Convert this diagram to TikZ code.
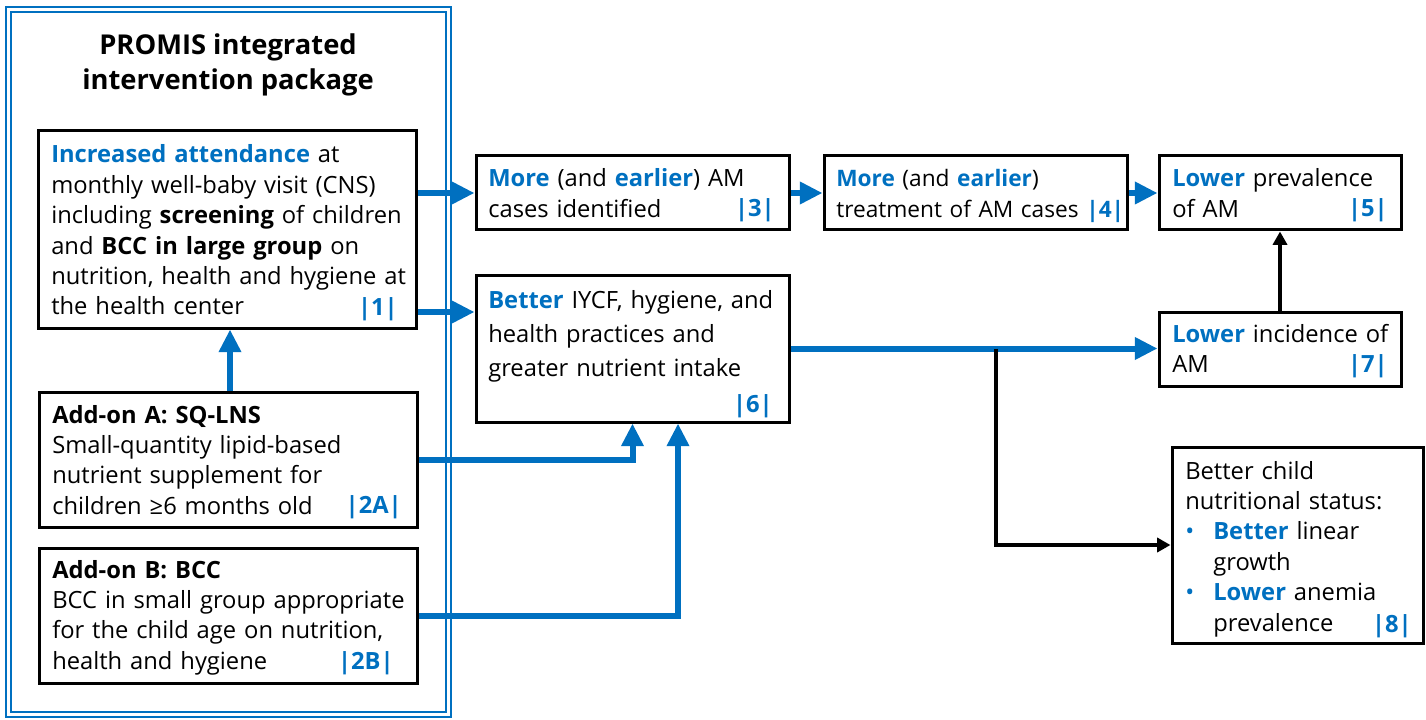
\documentclass[tikz,border=0pt]{standalone}
\usepackage{fontspec}
\setmainfont{Open Sans}
\usetikzlibrary{arrows.meta,calc}
\definecolor{cb}{HTML}{0070C0}
\newcommand{\hb}[1]{\textcolor{cb}{\textbf{#1}}}
\newcommand{\bodyfont}{\fontsize{17.8}{22.8}\selectfont}
\newcommand{\bul}{\makebox[21pt][l]{\textcolor{cb}{•}}}
\newcommand{\ind}{\hspace*{21pt}}
\tikzset{
  box/.style={draw=black, line width=2.25pt, inner sep=0pt, rectangle},
  txt/.style={inner sep=0pt, anchor=base west, align=left, text width=300pt, font=\bodyfont},
  lbl/.style={inner sep=0pt, anchor=base east, font=\bodyfont\bfseries, text=cb},
  barrow/.style={draw=cb, line width=4.5pt, -{Triangle[length=17pt,width=16pt]}},
  karrow/.style={draw=black, line width=3pt, -{Triangle[length=10pt,width=10.5pt]}},
}
\begin{document}
\begin{tikzpicture}[x=0.75pt,y=-0.75pt]
\useasboundingbox (0,0) rectangle (1426,720);
% package frame
\node[draw=cb, line width=1.5pt, double, double distance=2.25pt, inner sep=0pt,
      minimum width={440*0.75pt}, minimum height={705*0.75pt}] (pkg) at (228.5,362) {};
\node[inner sep=0pt, anchor=base, align=center, font=\fontsize{20.5}{26.25}\selectfont\bfseries] (title) at (228,90)
  {PROMIS integrated\\intervention package};
% boxes
\node[box, minimum width={378*0.75pt}, minimum height={197*0.75pt}] (b1) at (227,229.5) {};
\node[box, minimum width={378*0.75pt}, minimum height={135*0.75pt}] (b2a) at (228,459.5) {};
\node[box, minimum width={378*0.75pt}, minimum height={135*0.75pt}] (b2b) at (228,615.5) {};
\node[box, minimum width={313*0.75pt}, minimum height={74*0.75pt}] (b3) at (632.5,193) {};
\node[box, minimum width={303*0.75pt}, minimum height={74*0.75pt}] (b4) at (975.5,193) {};
\node[box, minimum width={242*0.75pt}, minimum height={74*0.75pt}] (b5) at (1280,193) {};
\node[box, minimum width={313*0.75pt}, minimum height={147*0.75pt}] (b6) at (632.5,348.5) {};
\node[box, minimum width={242*0.75pt}, minimum height={74*0.75pt}] (b7) at (1280,349) {};
\node[box, minimum width={251*0.75pt}, minimum height={196*0.75pt}] (b8) at (1297.5,545) {};
% texts
\node[txt] (t1) at (51,163) {\hb{Increased attendance} at\\ monthly well-baby visit (CNS)\\ including \textbf{screening} of children\\ and \textbf{BCC in large group} on\\ nutrition, health and hygiene at\\ the health center};
\node[lbl] (l1) at (398,315) {|1|};
\node[txt] (t2a) at (52,423) {\textbf{Add-on A: SQ-LNS}\\ Small-quantity lipid-based\\ nutrient supplement for\\ children ≥6 months old};
\node[lbl] (l2a) at (402,513) {|2A|};
\node[txt] (t2b) at (52,578) {\textbf{Add-on B: BCC}\\ BCC in small group appropriate\\ for the child age on nutrition,\\ health and hygiene};
\node[lbl] (l2b) at (394,669) {|2B|};
\node[txt] (t3) at (488,187) {\hb{More} (and \hb{earlier}) AM\\ cases identified};
\node[lbl] (l3) at (775,217) {|3|};
\node[txt, font=\fontsize{17.0}{22.8}\selectfont] (t4) at (836,187) {\hb{More} (and \hb{earlier})\\ treatment of AM cases \hb{|4|}};
\node[txt] (t5) at (1172,187) {\hb{Lower} prevalence\\ of AM};
\node[lbl] (l5) at (1388,217) {|5|};
\node[txt, font=\fontsize{17.8}{25.5}\selectfont] (t6) at (488,308) {\hb{Better} IYCF, hygiene, and\\ health practices and\\ greater nutrient intake};
\node[lbl] (l6) at (773,412) {|6|};
\node[txt] (t7) at (1172,342) {\hb{Lower} incidence of\\ AM};
\node[lbl] (l7) at (1388,372) {|7|};
\node[txt] (t8) at (1185,479) {Better child\\ nutritional status:\\ \bul\hb{Better} linear\\ \ind growth\\ \bul\hb{Lower} anemia\\ \ind prevalence};
\node[lbl] (l8) at (1412,632) {|8|};
% connectors
\coordinate (c16) at (0,312);
\coordinate (br) at (996,348.5);
\draw[barrow] (b1.east |- b3.west) -- (b3.west);
\draw[barrow] (b1.east |- c16) -- (b6.west |- c16);
\draw[barrow] (b3.east) -- (b4.west);
\draw[barrow] (b4.east) -- (b5.west);
\draw[barrow] (b2a.north -| 230,0) -- (b1.south -| 230,0);
\draw[barrow] (b2a.east) -| (b6.south);
\draw[barrow] (b2b.east) -| ($(b6.south)+(45.5,0)$);
\draw[barrow] (b6.east) -- (b7.west |- b6.east);
\draw[karrow] (b7.north) -- (b5.south);
\draw[karrow] (br) |- (b8.west);
\end{tikzpicture}
\end{document}
